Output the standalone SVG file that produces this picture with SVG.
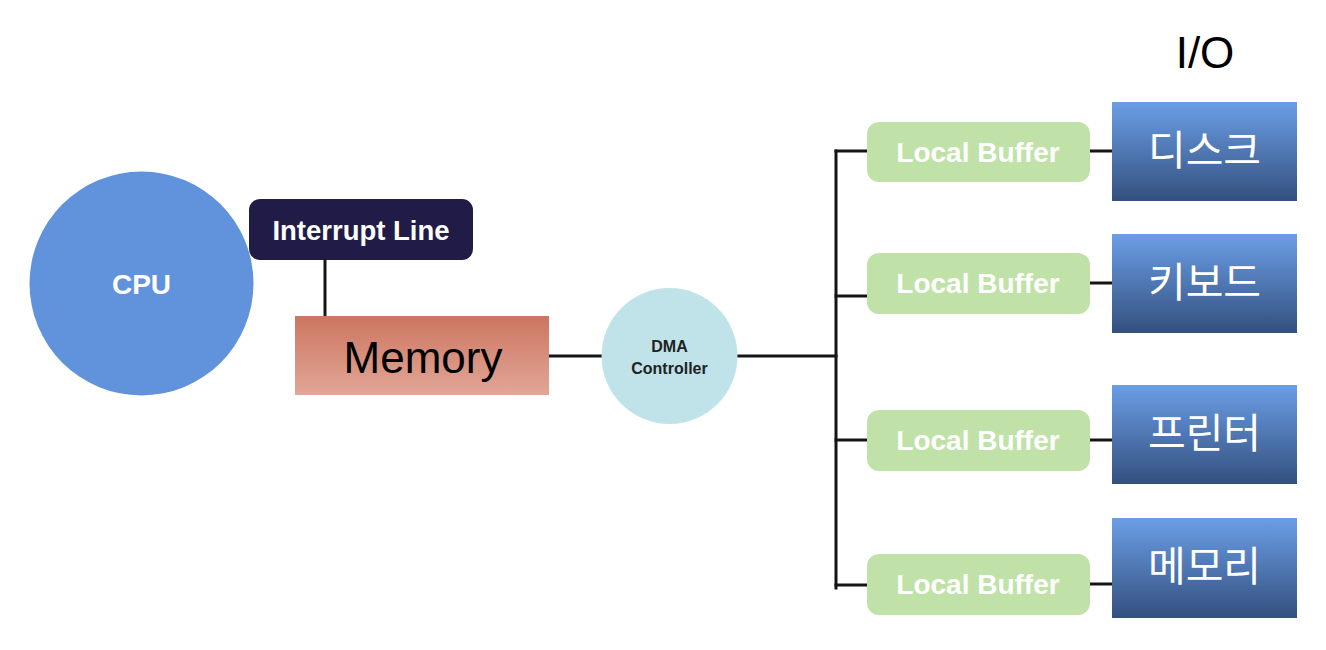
<svg xmlns="http://www.w3.org/2000/svg" width="1326" height="650" viewBox="0 0 1326 650">
<defs>
<linearGradient id="memGrad" x1="0" y1="0" x2="0" y2="1">
<stop offset="0" stop-color="#cc7660"/>
<stop offset="1" stop-color="#e2a697"/>
</linearGradient>
<linearGradient id="ioGrad" x1="0" y1="0" x2="0" y2="1">
<stop offset="0" stop-color="#6b9ee6"/>
<stop offset="1" stop-color="#33507e"/>
</linearGradient>
<style>
.conn{stroke:#151515;stroke-width:3;fill:none;stroke-linecap:square}
.buf{fill:#c0e2a8}
.buftxt{font-family:"Liberation Sans",Arial,sans-serif;font-weight:bold;font-size:28px;fill:#ffffff;text-anchor:middle}
.io{fill:url(#ioGrad)}
.iotxt{font-family:"Noto Sans CJK KR","Noto Sans",sans-serif;font-size:41px;fill:#ffffff;text-anchor:middle}
</style>
</defs>
<rect width="1326" height="650" fill="#ffffff"/>
<g id="connectors">
<line class="conn" x1="325" y1="260" x2="325" y2="316"/>
<line class="conn" x1="549" y1="356" x2="602" y2="356"/>
<line class="conn" x1="738" y1="356" x2="836" y2="356"/>
<line class="conn" x1="836" y1="151" x2="836" y2="588"/>
<line class="conn" x1="836" y1="151" x2="867" y2="151"/>
<line class="conn" x1="836" y1="296" x2="867" y2="296"/>
<line class="conn" x1="836" y1="440" x2="867" y2="440"/>
<line class="conn" x1="836" y1="585" x2="867" y2="585"/>
<line class="conn" x1="1090" y1="151" x2="1112" y2="151"/>
<line class="conn" x1="1090" y1="283" x2="1112" y2="283"/>
<line class="conn" x1="1090" y1="440" x2="1112" y2="440"/>
<line class="conn" x1="1090" y1="584" x2="1112" y2="584"/>
</g>
<g id="cpu">
<circle cx="141.5" cy="283.5" r="112" fill="#6192dc"/>
<text x="141.5" y="294" font-family="Liberation Sans, Arial, sans-serif" font-weight="bold" font-size="28" fill="#ffffff" text-anchor="middle">CPU</text>
</g>
<g id="interrupt-line">
<rect x="249" y="199" width="224" height="61" rx="11" fill="#211b47"/>
<text x="361" y="240" font-family="Liberation Sans, Arial, sans-serif" font-weight="bold" font-size="27.5" fill="#ffffff" text-anchor="middle">Interrupt Line</text>
</g>
<g id="memory">
<rect x="295" y="316" width="254" height="79" fill="url(#memGrad)"/>
<text x="423" y="373" font-family="Liberation Sans, Arial, sans-serif" font-size="44" fill="#000000" text-anchor="middle">Memory</text>
</g>
<g id="dma">
<circle cx="669.5" cy="356" r="68" fill="#bfe3e8"/>
<text x="669.5" y="352" font-family="Liberation Sans, Arial, sans-serif" font-weight="bold" font-size="16" fill="#222222" text-anchor="middle">DMA</text>
<text x="669.5" y="374" font-family="Liberation Sans, Arial, sans-serif" font-weight="bold" font-size="16" fill="#222222" text-anchor="middle">Controller</text>
</g>
<g id="io-label">
<text x="1205" y="68" font-family="Liberation Sans, Arial, sans-serif" font-size="44" fill="#000000" text-anchor="middle">I/O</text>
</g>
<g id="buffer-1">
<rect class="buf" x="867" y="122" width="223" height="60" rx="12"/>
<text class="buftxt" x="978" y="162">Local Buffer</text>
</g>
<g id="buffer-2">
<rect class="buf" x="867" y="253" width="223" height="61" rx="12"/>
<text class="buftxt" x="978" y="293">Local Buffer</text>
</g>
<g id="buffer-3">
<rect class="buf" x="867" y="410" width="223" height="61" rx="12"/>
<text class="buftxt" x="978" y="450">Local Buffer</text>
</g>
<g id="buffer-4">
<rect class="buf" x="867" y="554" width="223" height="61" rx="12"/>
<text class="buftxt" x="978" y="594">Local Buffer</text>
</g>
<g id="disk">
<rect class="io" x="1112" y="102" width="185" height="99"/>
<text class="iotxt" x="1204.5" y="165">디스크</text>
</g>
<g id="keyboard">
<rect class="io" x="1112" y="234" width="185" height="99"/>
<text class="iotxt" x="1204.5" y="297">키보드</text>
</g>
<g id="printer">
<rect class="io" x="1112" y="385" width="185" height="99"/>
<text class="iotxt" x="1204.5" y="448">프린터</text>
</g>
<g id="mem-device">
<rect class="io" x="1112" y="518" width="185" height="100"/>
<text class="iotxt" x="1204.5" y="581">메모리</text>
</g>
</svg>
